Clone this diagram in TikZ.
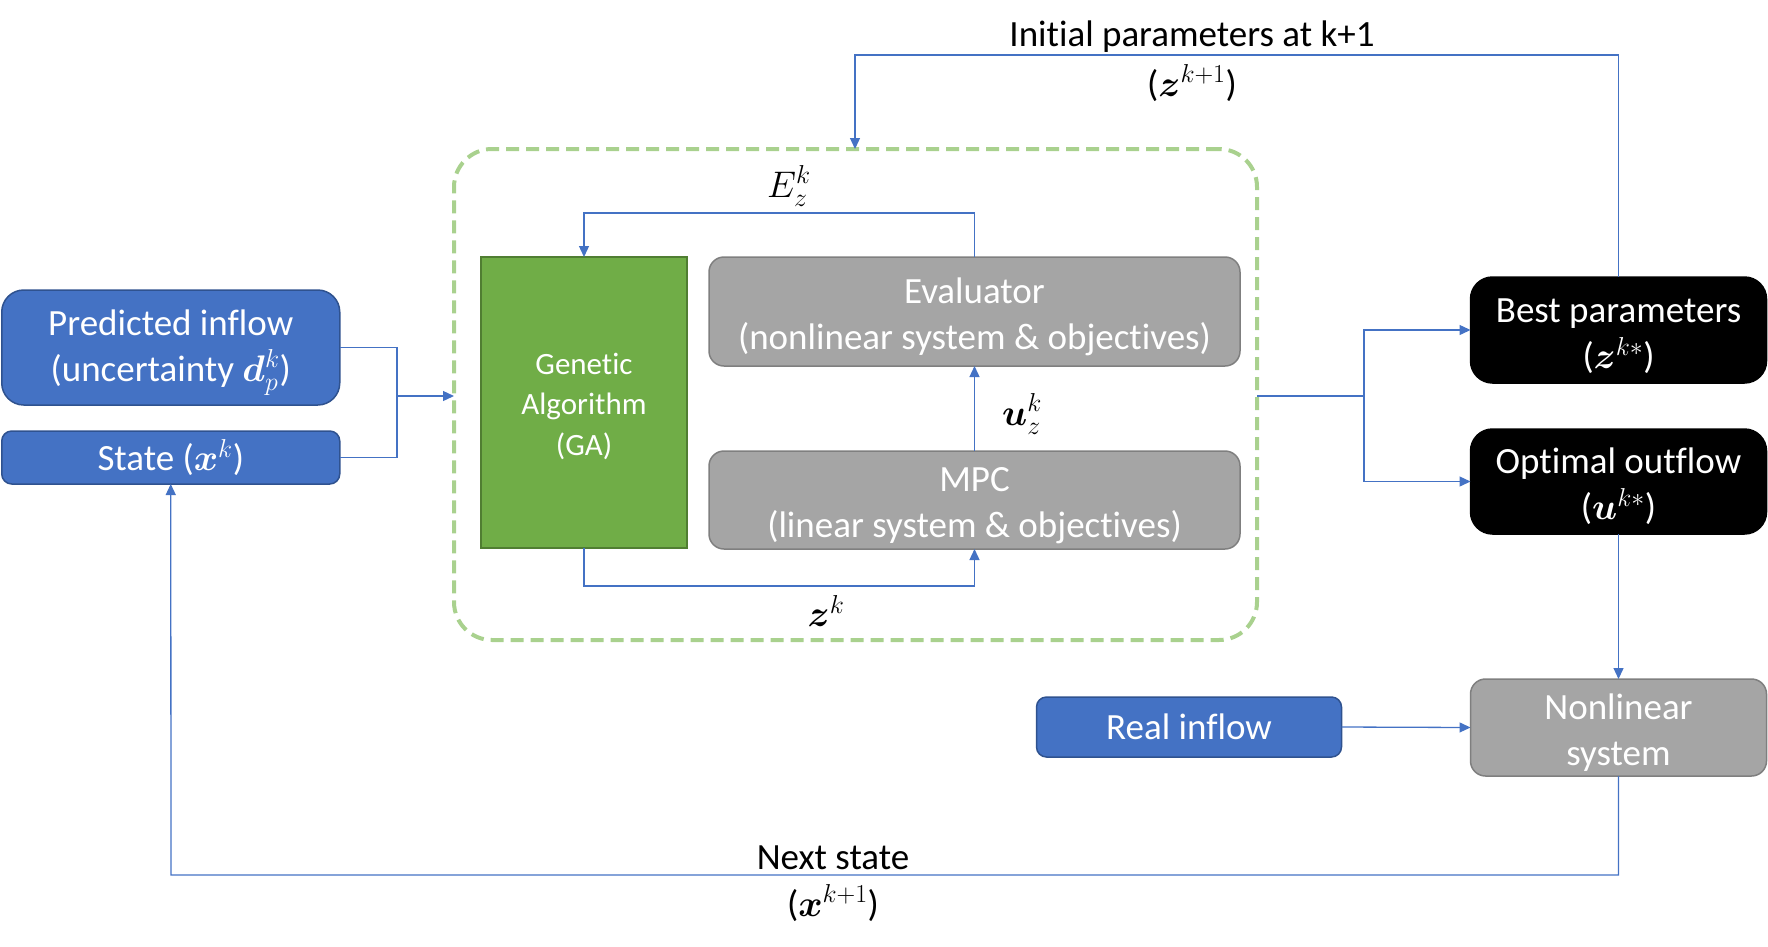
\RequirePackage{fix-cm}
\documentclass[tikz,border=0pt]{standalone}
\usepackage{amsmath}
\usepackage{bm}
\usepackage{fontspec}
\setmainfont{Carlito}[Ligatures=NoCommon]
\usetikzlibrary{arrows.meta}
\definecolor{cblue}{HTML}{4472C4}
\definecolor{bblue}{HTML}{2F528F}
\definecolor{cgray}{HTML}{A5A5A5}
\definecolor{bgray}{HTML}{7F7F7F}
\definecolor{cgreen}{HTML}{70AD47}
\definecolor{bgreen}{HTML}{507E32}
\definecolor{lgreen}{HTML}{A9D18E}
\newcommand\firstl{\rule{0pt}{36pt}}
\newcommand\firstg{\rule{0pt}{29pt}}
\tikzset{
  every node/.style={inner sep=0pt, outer sep=0pt},
  txt/.style={font=\fontsize{37}{46}\selectfont, align=center},
  bluebox/.style={txt, draw=bblue, fill=cblue, line width=1.5pt, text=white},
  graybox/.style={txt, draw=bgray, fill=cgray, line width=1.5pt, text=white, rounded corners=15pt},
  blackbox/.style={txt, draw=black, fill=black, line width=1.5pt, text=white, rounded corners=22pt},
  gabox/.style={font=\fontsize{31}{40.5}\selectfont, align=center, draw=bgreen, fill=cgreen, line width=2pt, text=white},
  conn/.style={draw=cblue, line width=1.3pt},
  arr/.style={conn, -{Triangle[length=11pt,width=10pt]}},
  lbl/.style={txt, text=black},
}
\begin{document}
\begin{tikzpicture}[x=1pt,y=-1pt]
\useasboundingbox (0,0) rectangle (1768,946);
% boxes
\node[draw=lgreen, line width=4pt, dash pattern=on 13pt off 7pt, rounded corners=38pt,
      minimum width=803pt, minimum height=491pt] (dash) at (855.5,394.5) {};
\node[bluebox, rounded corners=22pt, minimum width=338pt, minimum height=115pt] (pred) at (170.75,347.5)
  {\firstl Predicted inflow\\(uncertainty $\bm{d}_p^k$)};
\node[bluebox, rounded corners=10pt, minimum width=338pt, minimum height=53pt] (state) at (170.75,457.5)
  {State ($\bm{x}^k$)};
\node[gabox, minimum width=206pt, minimum height=291pt] (ga) at (584,402.5)
  {\firstg Genetic\\Algorithm\\(GA)};
\node[graybox, minimum width=531pt, minimum height=109pt] (eval) at (974.5,311.5)
  {\firstl Evaluator\\(nonlinear system \& objectives)};
\node[graybox, minimum width=531pt, minimum height=98pt] (mpc) at (974.5,500)
  {\firstl MPC\\(linear system \& objectives)};
\node[blackbox, minimum width=296pt, minimum height=106pt] (best) at (1618.5,330)
  {\firstl Best parameters\\($\bm{z}^{k*}$)};
\node[blackbox, minimum width=296pt, minimum height=105pt] (opt) at (1618.5,481.5)
  {\firstl Optimal outflow\\($\bm{u}^{k*}$)};
\node[graybox, minimum width=296pt, minimum height=97pt] (nonlin) at (1618.5,727.5)
  {\firstl Nonlinear\\system};
\node[bluebox, rounded corners=10pt, minimum width=305pt, minimum height=60pt] (real) at (1189,727)
  {Real inflow};
% labels
\node[lbl] (lE) at (789,186) {$E_z^k$};
\node[lbl] (lu) at (1022,414) {$\bm{u}_z^k$};
\node[lbl] (lz) at (826,611) {$\bm{z}^k$};
\node[lbl] (linit) at (1192,37) {Initial parameters at k+1};
\node[lbl] (linit2) at (1192,83) {($\bm{z}^{k+1}$)};
\node[lbl] (lnext) at (833,858) {Next state};
\node[lbl] (lnext2) at (833,903) {($\bm{x}^{k+1}$)};
% coordinates
\coordinate (jin) at (397,396);
\coordinate (jout) at (1364,396);
\coordinate (top) at (855,55);
\coordinate (bot) at (171,875);
\coordinate (eloop) at (0,213);
\coordinate (zloop) at (0,586);
% connectors
\draw[conn] (pred.east) -| (jin);
\draw[conn] (state.east) -| (jin);
\draw[arr] (jin) -- (jin -| dash.west);
\draw[conn] (jout -| dash.east) -- (jout);
\draw[arr] (jout) |- (best.west);
\draw[arr] (jout) |- (opt.west);
\draw[arr] (best.north) |- (top) -- (top |- dash.north);
\draw[arr] (eval.north) -- (eval.north |- eloop) -| (ga.north);
\draw[arr] (ga.south) -- (ga.south |- zloop) -| (mpc.south);
\draw[arr] (mpc.north) -- (eval.south);
\draw[arr] (opt.south) -- (nonlin.north);
\draw[arr] (real.east) -- (nonlin.west);
\draw[arr] (nonlin.south) |- (bot) -- (state.south);
\end{tikzpicture}
\end{document}
